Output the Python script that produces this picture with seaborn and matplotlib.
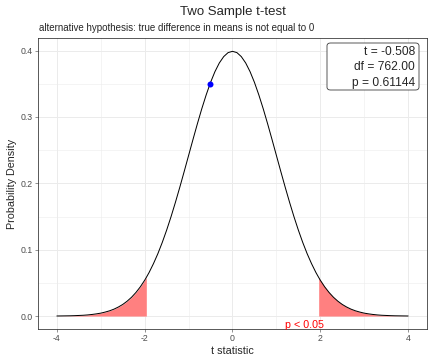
import matplotlib
matplotlib.use("Agg")
import matplotlib.pyplot as plt
from matplotlib.patches import FancyBboxPatch
import seaborn as sns
import pandas as pd
import numpy as np

# t-distribution density (df = 762)
t_x = [-4.0, -3.9, -3.8, -3.7, -3.6, -3.5, -3.4, -3.3, -3.2, -3.1, -3.0, -2.9, -2.8, -2.7,
       -2.6, -2.5, -2.4, -2.3, -2.2, -2.1, -2.0, -1.963, -1.9, -1.8, -1.7, -1.6, -1.5, -1.4,
       -1.3, -1.2, -1.1, -1.0, -0.9, -0.8, -0.7, -0.6, -0.5, -0.4, -0.3, -0.2, -0.1, 0.0,
       0.1, 0.2, 0.3, 0.4, 0.5, 0.6, 0.7, 0.8, 0.9, 1.0, 1.1, 1.2, 1.3, 1.4, 1.5, 1.6, 1.7,
       1.8, 1.9, 1.963, 2.0, 2.1, 2.2, 2.3, 2.4, 2.5, 2.6, 2.7, 2.8, 2.9, 3.0, 3.1, 3.2, 3.3,
       3.4, 3.5, 3.6, 3.7, 3.8, 3.9, 4.0]
t_density = [0.0001, 0.0002, 0.0003, 0.0004, 0.0006, 0.0009, 0.0012, 0.0017, 0.0024, 0.0033,
             0.0044, 0.0060, 0.0079, 0.0104, 0.0136, 0.0175, 0.0224, 0.0283, 0.0355, 0.0440,
             0.0540, 0.0582, 0.0656, 0.0790, 0.0940, 0.1109, 0.1295, 0.1497, 0.1714, 0.1942,
             0.2179, 0.2420, 0.2661, 0.2897, 0.3123, 0.3332, 0.3521, 0.3683, 0.3814, 0.3910,
             0.3970, 0.3989,
             0.3970, 0.3910, 0.3814, 0.3683, 0.3521, 0.3332, 0.3123, 0.2897, 0.2661, 0.2420,
             0.2179, 0.1942, 0.1714, 0.1497, 0.1295, 0.1109, 0.0940, 0.0790, 0.0656, 0.0582,
             0.0540, 0.0440, 0.0355, 0.0283, 0.0224, 0.0175, 0.0136, 0.0104, 0.0079, 0.0060,
             0.0044, 0.0033, 0.0024, 0.0017, 0.0012, 0.0009, 0.0006, 0.0004, 0.0003, 0.0002,
             0.0001]
crit = 1.963
t_stat = [-0.508]
t_stat_density = [0.3503]
stats_labels = ["t = -0.508", "df = 762.00", "p = 0.61144"]
x_ticks = [-4, -2, 0, 2, 4]
y_ticks = [0.0, 0.1, 0.2, 0.3, 0.4]

df = pd.DataFrame({"x": t_x, "y": t_density})
pt = pd.DataFrame({"x": t_stat, "y": t_stat_density})

sns.set_style("white")
plt.rcParams["font.family"] = ["Liberation Sans", "DejaVu Sans"]

W, H = 432, 360
fig = plt.figure(figsize=(6, 5), dpi=72)
ax = fig.add_axes([38 / W, (H - 329) / H, 389 / W, 291 / H])

# grid (theme_bw style)
for v in [-4, -3, -2, -1, 0, 1, 2, 3, 4]:
    ax.axvline(v, color="#ebebeb", lw=1.0 if v % 2 == 0 else 0.5, zorder=0)
for v in np.arange(0, 0.45, 0.05):
    ax.axhline(v, color="#ebebeb", lw=1.0 if round(v * 100) % 10 == 0 else 0.5, zorder=0)

# shaded rejection regions
left = df[df.x <= -crit]
right = df[df.x >= crit]
ax.fill_between(left.x, 0, left.y, color="#ff8080", lw=0, zorder=1)
ax.fill_between(right.x, 0, right.y, color="#ff8080", lw=0, zorder=1)

sns.lineplot(data=df, x="x", y="y", color="black", lw=1.0, ax=ax, zorder=2)
sns.scatterplot(data=pt, x="x", y="y", color="blue", edgecolor="blue", s=36, lw=0,
                ax=ax, zorder=3)

ax.text(1.65, -0.013, "p < 0.05", color="red", fontsize=10.8, ha="center", va="center")

# statistics label box
box = FancyBboxPatch((327 / W, 1 - 90 / H), 92 / W, 47 / H,
                     boxstyle="round,pad=0,rounding_size=0.008", transform=fig.transFigure,
                     fc="white", ec="#333333", lw=0.8, zorder=5)
fig.add_artist(box)
fig.text(415 / W, 1 - 67.5 / H, "\n".join(stats_labels), ha="right", va="center",
         fontsize=12, linespacing=1.4, zorder=6)

ax.set_xlim(-4.43, 4.43)
ax.set_ylim(-0.0195, 0.419)
ax.set_xticks(x_ticks)
ax.set_xticklabels([str(v) for v in x_ticks])
ax.set_yticks(y_ticks)
ax.set_yticklabels([f"{v:.1f}" for v in y_ticks])
ax.tick_params(axis="both", labelsize=8.8, colors="#4d4d4d", length=3, width=0.6, direction="out",
               bottom=True, left=True, pad=2)
for lab in ax.get_xticklabels() + ax.get_yticklabels():
    lab.set_color("#4d4d4d")
for s in ax.spines.values():
    s.set_color("#333333")
    s.set_linewidth(0.8)

ax.set_xlabel("t statistic", fontsize=10.8, labelpad=3)
ax.set_ylabel("Probability Density", fontsize=10.8, labelpad=4)

fig.text(232.5 / W, 1 - 12 / H, "Two Sample t-test", ha="center", va="center", fontsize=13.2)
fig.text(39 / W, 1 - 28 / H, "alternative hypothesis: true difference in means is not equal to 0",
         ha="left", va="center", fontsize=9.7)

fig.savefig("out.png", dpi=72)
